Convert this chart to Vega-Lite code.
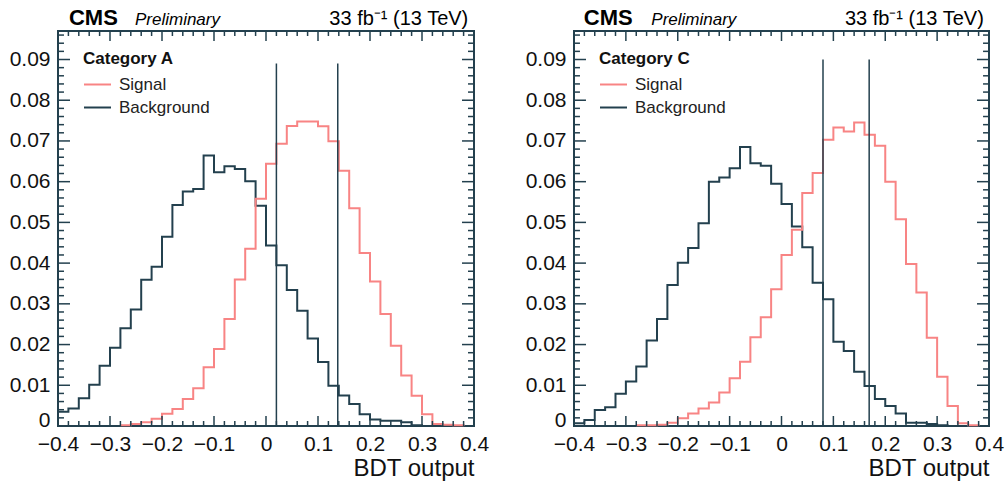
{
 "$schema": "https://vega.github.io/schema/vega-lite/v6.json",
 "padding": {"left": 8, "top": 5, "right": 0, "bottom": 0},
 "background": "white",
 "config": {
  "view": {"stroke": "#23404e", "strokeWidth": 2},
  "font": "Liberation Sans",
  "axis": {"domain": false, "grid": false, "ticks": false, "labelFont": "Liberation Sans", "labelFontSize": 21, "labelColor": "#111111", "labelOverlap": false, "labelFlush": false, "labelBound": false, "titleFont": "Liberation Sans", "titleFontWeight": "normal", "titleColor": "#111111"},
  "legend": {"orient": "none", "legendX": 25, "legendY": 20, "padding": 0, "titleFont": "Liberation Sans", "titleFontSize": 17, "titleFontWeight": "bold", "titleColor": "#111111", "titlePadding": 2, "labelFont": "Liberation Sans", "labelFontSize": 17, "labelColor": "#222222", "symbolType": "stroke", "symbolSize": 729, "symbolStrokeWidth": 2, "labelOffset": 7, "rowPadding": 0}
 },
 "datasets": {
  "hist": [
   {"p":"A","s":"Background","x":-0.4,"y":0.0035},{"p":"A","s":"Background","x":-0.38,"y":0.0043},{"p":"A","s":"Background","x":-0.36,"y":0.0068},{"p":"A","s":"Background","x":-0.34,"y":0.0101},{"p":"A","s":"Background","x":-0.32,"y":0.0148},{"p":"A","s":"Background","x":-0.3,"y":0.0192},{"p":"A","s":"Background","x":-0.28,"y":0.024},{"p":"A","s":"Background","x":-0.26,"y":0.0286},{"p":"A","s":"Background","x":-0.24,"y":0.0359},{"p":"A","s":"Background","x":-0.22,"y":0.0391},{"p":"A","s":"Background","x":-0.2,"y":0.0465},{"p":"A","s":"Background","x":-0.18,"y":0.0543},{"p":"A","s":"Background","x":-0.16,"y":0.0576},{"p":"A","s":"Background","x":-0.14,"y":0.0582},{"p":"A","s":"Background","x":-0.12,"y":0.0664},{"p":"A","s":"Background","x":-0.1,"y":0.0623},{"p":"A","s":"Background","x":-0.08,"y":0.0638},{"p":"A","s":"Background","x":-0.06,"y":0.0631},{"p":"A","s":"Background","x":-0.04,"y":0.0601},{"p":"A","s":"Background","x":-0.02,"y":0.0541},{"p":"A","s":"Background","x":0,"y":0.0443},{"p":"A","s":"Background","x":0.02,"y":0.0395},{"p":"A","s":"Background","x":0.04,"y":0.0334},{"p":"A","s":"Background","x":0.06,"y":0.0283},{"p":"A","s":"Background","x":0.08,"y":0.0215},{"p":"A","s":"Background","x":0.1,"y":0.0157},{"p":"A","s":"Background","x":0.12,"y":0.0099},{"p":"A","s":"Background","x":0.14,"y":0.0075},{"p":"A","s":"Background","x":0.16,"y":0.0054},{"p":"A","s":"Background","x":0.18,"y":0.0029},{"p":"A","s":"Background","x":0.2,"y":0.0016},{"p":"A","s":"Background","x":0.22,"y":0.0013},{"p":"A","s":"Background","x":0.24,"y":0.0013},{"p":"A","s":"Background","x":0.26,"y":0.0009},{"p":"A","s":"Background","x":0.28,"y":0.0002},{"p":"A","s":"Background","x":0.3,"y":0},
   {"p":"A","s":"Signal","x":-0.28,"y":0.0002},{"p":"A","s":"Signal","x":-0.26,"y":0.0005},{"p":"A","s":"Signal","x":-0.24,"y":0.0009},{"p":"A","s":"Signal","x":-0.22,"y":0.0018},{"p":"A","s":"Signal","x":-0.2,"y":0.003},{"p":"A","s":"Signal","x":-0.18,"y":0.0042},{"p":"A","s":"Signal","x":-0.16,"y":0.0066},{"p":"A","s":"Signal","x":-0.14,"y":0.0093},{"p":"A","s":"Signal","x":-0.12,"y":0.0144},{"p":"A","s":"Signal","x":-0.1,"y":0.0189},{"p":"A","s":"Signal","x":-0.08,"y":0.0263},{"p":"A","s":"Signal","x":-0.06,"y":0.036},{"p":"A","s":"Signal","x":-0.04,"y":0.0435},{"p":"A","s":"Signal","x":-0.02,"y":0.0558},{"p":"A","s":"Signal","x":0,"y":0.0644},{"p":"A","s":"Signal","x":0.02,"y":0.0693},{"p":"A","s":"Signal","x":0.04,"y":0.0737},{"p":"A","s":"Signal","x":0.06,"y":0.0748},{"p":"A","s":"Signal","x":0.08,"y":0.0748},{"p":"A","s":"Signal","x":0.1,"y":0.0736},{"p":"A","s":"Signal","x":0.12,"y":0.0699},{"p":"A","s":"Signal","x":0.14,"y":0.0627},{"p":"A","s":"Signal","x":0.16,"y":0.0535},{"p":"A","s":"Signal","x":0.18,"y":0.0425},{"p":"A","s":"Signal","x":0.2,"y":0.0355},{"p":"A","s":"Signal","x":0.22,"y":0.0275},{"p":"A","s":"Signal","x":0.24,"y":0.0197},{"p":"A","s":"Signal","x":0.26,"y":0.0124},{"p":"A","s":"Signal","x":0.28,"y":0.0074},{"p":"A","s":"Signal","x":0.3,"y":0.0029},{"p":"A","s":"Signal","x":0.32,"y":0.0005},{"p":"A","s":"Signal","x":0.34,"y":0.0003},{"p":"A","s":"Signal","x":0.36,"y":0.0002},{"p":"A","s":"Signal","x":0.38,"y":0},
   {"p":"C","s":"Background","x":-0.4,"y":0.0007},{"p":"C","s":"Background","x":-0.38,"y":0.0015},{"p":"C","s":"Background","x":-0.36,"y":0.0039},{"p":"C","s":"Background","x":-0.34,"y":0.0046},{"p":"C","s":"Background","x":-0.32,"y":0.0079},{"p":"C","s":"Background","x":-0.3,"y":0.0109},{"p":"C","s":"Background","x":-0.28,"y":0.0146},{"p":"C","s":"Background","x":-0.26,"y":0.021},{"p":"C","s":"Background","x":-0.24,"y":0.0263},{"p":"C","s":"Background","x":-0.22,"y":0.0346},{"p":"C","s":"Background","x":-0.2,"y":0.0401},{"p":"C","s":"Background","x":-0.18,"y":0.0437},{"p":"C","s":"Background","x":-0.16,"y":0.0498},{"p":"C","s":"Background","x":-0.14,"y":0.06},{"p":"C","s":"Background","x":-0.12,"y":0.061},{"p":"C","s":"Background","x":-0.1,"y":0.0633},{"p":"C","s":"Background","x":-0.08,"y":0.0685},{"p":"C","s":"Background","x":-0.06,"y":0.0645},{"p":"C","s":"Background","x":-0.04,"y":0.0639},{"p":"C","s":"Background","x":-0.02,"y":0.0595},{"p":"C","s":"Background","x":0,"y":0.0545},{"p":"C","s":"Background","x":0.02,"y":0.049},{"p":"C","s":"Background","x":0.04,"y":0.0439},{"p":"C","s":"Background","x":0.06,"y":0.0352},{"p":"C","s":"Background","x":0.08,"y":0.0311},{"p":"C","s":"Background","x":0.1,"y":0.0207},{"p":"C","s":"Background","x":0.12,"y":0.0184},{"p":"C","s":"Background","x":0.14,"y":0.0133},{"p":"C","s":"Background","x":0.16,"y":0.0098},{"p":"C","s":"Background","x":0.18,"y":0.0066},{"p":"C","s":"Background","x":0.2,"y":0.0049},{"p":"C","s":"Background","x":0.22,"y":0.0031},{"p":"C","s":"Background","x":0.24,"y":0.0008},{"p":"C","s":"Background","x":0.26,"y":0.0008},{"p":"C","s":"Background","x":0.28,"y":0.0005},{"p":"C","s":"Background","x":0.3,"y":0.0002},{"p":"C","s":"Background","x":0.32,"y":0},
   {"p":"C","s":"Signal","x":-0.28,"y":0.0002},{"p":"C","s":"Signal","x":-0.26,"y":0.0002},{"p":"C","s":"Signal","x":-0.24,"y":0.0003},{"p":"C","s":"Signal","x":-0.22,"y":0.0008},{"p":"C","s":"Signal","x":-0.2,"y":0.0019},{"p":"C","s":"Signal","x":-0.18,"y":0.0031},{"p":"C","s":"Signal","x":-0.16,"y":0.0043},{"p":"C","s":"Signal","x":-0.14,"y":0.0058},{"p":"C","s":"Signal","x":-0.12,"y":0.0082},{"p":"C","s":"Signal","x":-0.1,"y":0.0117},{"p":"C","s":"Signal","x":-0.08,"y":0.0158},{"p":"C","s":"Signal","x":-0.06,"y":0.0218},{"p":"C","s":"Signal","x":-0.04,"y":0.0267},{"p":"C","s":"Signal","x":-0.02,"y":0.0336},{"p":"C","s":"Signal","x":0,"y":0.042},{"p":"C","s":"Signal","x":0.02,"y":0.0482},{"p":"C","s":"Signal","x":0.04,"y":0.0572},{"p":"C","s":"Signal","x":0.06,"y":0.0621},{"p":"C","s":"Signal","x":0.08,"y":0.0703},{"p":"C","s":"Signal","x":0.1,"y":0.0733},{"p":"C","s":"Signal","x":0.12,"y":0.0723},{"p":"C","s":"Signal","x":0.14,"y":0.0745},{"p":"C","s":"Signal","x":0.16,"y":0.0715},{"p":"C","s":"Signal","x":0.18,"y":0.0688},{"p":"C","s":"Signal","x":0.2,"y":0.06},{"p":"C","s":"Signal","x":0.22,"y":0.0508},{"p":"C","s":"Signal","x":0.24,"y":0.0398},{"p":"C","s":"Signal","x":0.26,"y":0.0328},{"p":"C","s":"Signal","x":0.28,"y":0.0217},{"p":"C","s":"Signal","x":0.3,"y":0.0121},{"p":"C","s":"Signal","x":0.32,"y":0.0049},{"p":"C","s":"Signal","x":0.34,"y":0.0007},{"p":"C","s":"Signal","x":0.36,"y":0.0002},{"p":"C","s":"Signal","x":0.38,"y":0}
  ],
  "cuts": [
   {"p":"A","x":0.02,"y":0,"y2":0.089},{"p":"A","x":0.138,"y":0,"y2":0.089},
   {"p":"C","x":0.08,"y":0,"y2":0.09},{"p":"C","x":0.169,"y":0,"y2":0.09}
  ],
  "notes": [
   {"p":"A","k":"cms","x":-0.379,"y":0.0985,"t":"CMS"},{"p":"A","k":"pre","x":-0.252,"y":0.0985,"t":"Preliminary"},{"p":"A","k":"lumi","x":0.389,"y":0.0985,"t":"33 fb⁻¹ (13 TeV)"},
   {"p":"C","k":"cms","x":-0.381,"y":0.0985,"t":"CMS"},{"p":"C","k":"pre","x":-0.251,"y":0.0985,"t":"Preliminary"},{"p":"C","k":"lumi","x":0.39,"y":0.0985,"t":"33 fb⁻¹ (13 TeV)"}
  ],
  "tickvals": [
   {"ax":"x","k":"major","v":-0.4},{"ax":"x","k":"major","v":-0.3},{"ax":"x","k":"major","v":-0.2},{"ax":"x","k":"major","v":-0.1},{"ax":"x","k":"major","v":0},{"ax":"x","k":"major","v":0.1},{"ax":"x","k":"major","v":0.2},{"ax":"x","k":"major","v":0.3},{"ax":"x","k":"major","v":0.4},
   {"ax":"x","k":"minor","v":-0.38},{"ax":"x","k":"minor","v":-0.36},{"ax":"x","k":"minor","v":-0.34},{"ax":"x","k":"minor","v":-0.32},{"ax":"x","k":"minor","v":-0.28},{"ax":"x","k":"minor","v":-0.26},{"ax":"x","k":"minor","v":-0.24},{"ax":"x","k":"minor","v":-0.22},{"ax":"x","k":"minor","v":-0.18},{"ax":"x","k":"minor","v":-0.16},{"ax":"x","k":"minor","v":-0.14},{"ax":"x","k":"minor","v":-0.12},{"ax":"x","k":"minor","v":-0.08},{"ax":"x","k":"minor","v":-0.06},{"ax":"x","k":"minor","v":-0.04},{"ax":"x","k":"minor","v":-0.02},{"ax":"x","k":"minor","v":0.02},{"ax":"x","k":"minor","v":0.04},{"ax":"x","k":"minor","v":0.06},{"ax":"x","k":"minor","v":0.08},{"ax":"x","k":"minor","v":0.12},{"ax":"x","k":"minor","v":0.14},{"ax":"x","k":"minor","v":0.16},{"ax":"x","k":"minor","v":0.18},{"ax":"x","k":"minor","v":0.22},{"ax":"x","k":"minor","v":0.24},{"ax":"x","k":"minor","v":0.26},{"ax":"x","k":"minor","v":0.28},{"ax":"x","k":"minor","v":0.32},{"ax":"x","k":"minor","v":0.34},{"ax":"x","k":"minor","v":0.36},{"ax":"x","k":"minor","v":0.38},
   {"ax":"y","k":"major","v":0.01},{"ax":"y","k":"major","v":0.02},{"ax":"y","k":"major","v":0.03},{"ax":"y","k":"major","v":0.04},{"ax":"y","k":"major","v":0.05},{"ax":"y","k":"major","v":0.06},{"ax":"y","k":"major","v":0.07},{"ax":"y","k":"major","v":0.08},{"ax":"y","k":"major","v":0.09},
   {"ax":"y","k":"minor","v":0.002},{"ax":"y","k":"minor","v":0.004},{"ax":"y","k":"minor","v":0.006},{"ax":"y","k":"minor","v":0.008},{"ax":"y","k":"minor","v":0.012},{"ax":"y","k":"minor","v":0.014},{"ax":"y","k":"minor","v":0.016},{"ax":"y","k":"minor","v":0.018},{"ax":"y","k":"minor","v":0.022},{"ax":"y","k":"minor","v":0.024},{"ax":"y","k":"minor","v":0.026},{"ax":"y","k":"minor","v":0.028},{"ax":"y","k":"minor","v":0.032},{"ax":"y","k":"minor","v":0.034},{"ax":"y","k":"minor","v":0.036},{"ax":"y","k":"minor","v":0.038},{"ax":"y","k":"minor","v":0.042},{"ax":"y","k":"minor","v":0.044},{"ax":"y","k":"minor","v":0.046},{"ax":"y","k":"minor","v":0.048},{"ax":"y","k":"minor","v":0.052},{"ax":"y","k":"minor","v":0.054},{"ax":"y","k":"minor","v":0.056},{"ax":"y","k":"minor","v":0.058},{"ax":"y","k":"minor","v":0.062},{"ax":"y","k":"minor","v":0.064},{"ax":"y","k":"minor","v":0.066},{"ax":"y","k":"minor","v":0.068},{"ax":"y","k":"minor","v":0.072},{"ax":"y","k":"minor","v":0.074},{"ax":"y","k":"minor","v":0.076},{"ax":"y","k":"minor","v":0.078},{"ax":"y","k":"minor","v":0.082},{"ax":"y","k":"minor","v":0.084},{"ax":"y","k":"minor","v":0.086},{"ax":"y","k":"minor","v":0.088},{"ax":"y","k":"minor","v":0.092},{"ax":"y","k":"minor","v":0.094},{"ax":"y","k":"minor","v":0.096}
  ]
 },
 "spacing": 100,
 "bounds": "flush",
 "resolve": {"scale": {"color": "independent"}, "legend": {"color": "independent"}},
 "hconcat": [
  {
   "width": 416, "height": 395,
   "resolve": {"axis": {"x": "independent", "y": "independent"}},
   "layer": [
    {
     "data": {"name": "hist"}, "transform": [{"filter": "datum.p == 'A'"}],
     "mark": {"type": "line", "interpolate": "step-after", "strokeWidth": 2},
     "encoding": {
      "x": {"field": "x", "type": "quantitative", "scale": {"domain": [-0.4, 0.4], "nice": false, "zero": false},
       "axis": {"orient": "bottom", "values": [-0.4,-0.3,-0.2,-0.1,0,0.1,0.2,0.3,0.4], "title": "BDT output", "titleAnchor": "end", "titleFontSize": 24, "titlePadding": 2, "labelPadding": 7,
        "labelExpr": "abs(datum.value) < 1e-9 ? '0' : format(datum.value, '.1f')"}},
      "y": {"field": "y", "type": "quantitative", "scale": {"domain": [0, 0.097], "nice": false, "zero": false},
       "axis": {"orient": "left", "values": [0,0.01,0.02,0.03,0.04,0.05,0.06,0.07,0.08,0.09], "title": null, "labelPadding": 8,
        "labelBaseline": {"condition": {"test": "datum.value < 1e-9", "value": "alphabetic"}, "value": "middle"},
        "labelExpr": "datum.value < 1e-9 ? '0' : format(datum.value, '.2f')"}},
      "color": {"field": "s", "type": "nominal", "scale": {"domain": ["Signal", "Background"], "range": ["#f88484", "#23404e"]}, "legend": {"title": "Category A"}}
     }
    },
    {
     "data": {"name": "cuts"}, "transform": [{"filter": "datum.p == 'A'"}],
     "mark": {"type": "rule", "color": "#23404e", "strokeWidth": 1.5},
     "encoding": {
      "x": {"field": "x", "type": "quantitative", "scale": {"domain": [-0.4, 0.4], "nice": false, "zero": false}, "axis": null},
      "y": {"field": "y", "type": "quantitative", "scale": {"domain": [0, 0.097], "nice": false, "zero": false}, "axis": null},
      "y2": {"field": "y2"}
     }
    },
    {
     "data": {"name": "tickvals"}, "transform": [{"filter": "datum.ax == 'x' && datum.k == 'major'"}],
     "mark": {"type": "rule", "color": "#23404e", "strokeWidth": 1.5},
     "encoding": {"x": {"field": "v", "type": "quantitative", "scale": {"domain": [-0.4, 0.4], "nice": false, "zero": false}, "axis": null}, "y": {"datum": 0, "type": "quantitative", "scale": {"domain": [0, 0.097], "nice": false, "zero": false}, "axis": null}, "y2": {"datum": 0.00246}}
    },
    {
     "data": {"name": "tickvals"}, "transform": [{"filter": "datum.ax == 'x' && datum.k == 'minor'"}],
     "mark": {"type": "rule", "color": "#23404e", "strokeWidth": 1.5},
     "encoding": {"x": {"field": "v", "type": "quantitative", "scale": {"domain": [-0.4, 0.4], "nice": false, "zero": false}, "axis": null}, "y": {"datum": 0, "type": "quantitative", "scale": {"domain": [0, 0.097], "nice": false, "zero": false}, "axis": null}, "y2": {"datum": 0.00123}}
    },
    {
     "data": {"name": "tickvals"}, "transform": [{"filter": "datum.ax == 'x' && datum.k == 'major'"}],
     "mark": {"type": "rule", "color": "#23404e", "strokeWidth": 1.5},
     "encoding": {"x": {"field": "v", "type": "quantitative", "scale": {"domain": [-0.4, 0.4], "nice": false, "zero": false}, "axis": null}, "y": {"datum": 0.097, "type": "quantitative", "scale": {"domain": [0, 0.097], "nice": false, "zero": false}, "axis": null}, "y2": {"datum": 0.09454}}
    },
    {
     "data": {"name": "tickvals"}, "transform": [{"filter": "datum.ax == 'x' && datum.k == 'minor'"}],
     "mark": {"type": "rule", "color": "#23404e", "strokeWidth": 1.5},
     "encoding": {"x": {"field": "v", "type": "quantitative", "scale": {"domain": [-0.4, 0.4], "nice": false, "zero": false}, "axis": null}, "y": {"datum": 0.097, "type": "quantitative", "scale": {"domain": [0, 0.097], "nice": false, "zero": false}, "axis": null}, "y2": {"datum": 0.09577}}
    },
    {
     "data": {"name": "tickvals"}, "transform": [{"filter": "datum.ax == 'y' && datum.k == 'major'"}],
     "mark": {"type": "rule", "color": "#23404e", "strokeWidth": 1.5},
     "encoding": {"y": {"field": "v", "type": "quantitative", "scale": {"domain": [0, 0.097], "nice": false, "zero": false}, "axis": null}, "x": {"datum": -0.4, "type": "quantitative", "scale": {"domain": [-0.4, 0.4], "nice": false, "zero": false}, "axis": null}, "x2": {"datum": -0.3769}}
    },
    {
     "data": {"name": "tickvals"}, "transform": [{"filter": "datum.ax == 'y' && datum.k == 'minor'"}],
     "mark": {"type": "rule", "color": "#23404e", "strokeWidth": 1.5},
     "encoding": {"y": {"field": "v", "type": "quantitative", "scale": {"domain": [0, 0.097], "nice": false, "zero": false}, "axis": null}, "x": {"datum": -0.4, "type": "quantitative", "scale": {"domain": [-0.4, 0.4], "nice": false, "zero": false}, "axis": null}, "x2": {"datum": -0.3885}}
    },
    {
     "data": {"name": "tickvals"}, "transform": [{"filter": "datum.ax == 'y' && datum.k == 'major'"}],
     "mark": {"type": "rule", "color": "#23404e", "strokeWidth": 1.5},
     "encoding": {"y": {"field": "v", "type": "quantitative", "scale": {"domain": [0, 0.097], "nice": false, "zero": false}, "axis": null}, "x": {"datum": 0.4, "type": "quantitative", "scale": {"domain": [-0.4, 0.4], "nice": false, "zero": false}, "axis": null}, "x2": {"datum": 0.3769}}
    },
    {
     "data": {"name": "tickvals"}, "transform": [{"filter": "datum.ax == 'y' && datum.k == 'minor'"}],
     "mark": {"type": "rule", "color": "#23404e", "strokeWidth": 1.5},
     "encoding": {"y": {"field": "v", "type": "quantitative", "scale": {"domain": [0, 0.097], "nice": false, "zero": false}, "axis": null}, "x": {"datum": 0.4, "type": "quantitative", "scale": {"domain": [-0.4, 0.4], "nice": false, "zero": false}, "axis": null}, "x2": {"datum": 0.3885}}
    },
    {
     "data": {"name": "notes"}, "transform": [{"filter": "datum.p == 'A' && datum.k == 'cms'"}],
     "mark": {"type": "text", "align": "left", "baseline": "alphabetic", "fontSize": 22, "fontWeight": "bold", "font": "Liberation Sans", "color": "#000000"},
     "encoding": {"x": {"field": "x", "type": "quantitative", "scale": {"domain": [-0.4, 0.4], "nice": false, "zero": false}, "axis": null}, "y": {"field": "y", "type": "quantitative", "scale": {"domain": [0, 0.097], "nice": false, "zero": false}, "axis": null}, "text": {"field": "t"}}
    },
    {
     "data": {"name": "notes"}, "transform": [{"filter": "datum.p == 'A' && datum.k == 'pre'"}],
     "mark": {"type": "text", "align": "left", "baseline": "alphabetic", "fontSize": 17, "fontStyle": "italic", "font": "Liberation Sans", "color": "#000000"},
     "encoding": {"x": {"field": "x", "type": "quantitative", "scale": {"domain": [-0.4, 0.4], "nice": false, "zero": false}, "axis": null}, "y": {"field": "y", "type": "quantitative", "scale": {"domain": [0, 0.097], "nice": false, "zero": false}, "axis": null}, "text": {"field": "t"}}
    },
    {
     "data": {"name": "notes"}, "transform": [{"filter": "datum.p == 'A' && datum.k == 'lumi'"}],
     "mark": {"type": "text", "align": "right", "baseline": "alphabetic", "fontSize": 20, "font": "Liberation Sans", "color": "#000000"},
     "encoding": {"x": {"field": "x", "type": "quantitative", "scale": {"domain": [-0.4, 0.4], "nice": false, "zero": false}, "axis": null}, "y": {"field": "y", "type": "quantitative", "scale": {"domain": [0, 0.097], "nice": false, "zero": false}, "axis": null}, "text": {"field": "t"}}
    }
   ]
  },
  {
   "width": 415, "height": 395,
   "resolve": {"axis": {"x": "independent", "y": "independent"}},
   "layer": [
    {
     "data": {"name": "hist"}, "transform": [{"filter": "datum.p == 'C'"}],
     "mark": {"type": "line", "interpolate": "step-after", "strokeWidth": 2},
     "encoding": {
      "x": {"field": "x", "type": "quantitative", "scale": {"domain": [-0.4, 0.4], "nice": false, "zero": false},
       "axis": {"orient": "bottom", "values": [-0.4,-0.3,-0.2,-0.1,0,0.1,0.2,0.3,0.4], "title": "BDT output", "titleAnchor": "end", "titleFontSize": 24, "titlePadding": 2, "labelPadding": 7,
        "labelExpr": "abs(datum.value) < 1e-9 ? '0' : format(datum.value, '.1f')"}},
      "y": {"field": "y", "type": "quantitative", "scale": {"domain": [0, 0.097], "nice": false, "zero": false},
       "axis": {"orient": "left", "values": [0,0.01,0.02,0.03,0.04,0.05,0.06,0.07,0.08,0.09], "title": null, "labelPadding": 8,
        "labelBaseline": {"condition": {"test": "datum.value < 1e-9", "value": "alphabetic"}, "value": "middle"},
        "labelExpr": "datum.value < 1e-9 ? '0' : format(datum.value, '.2f')"}},
      "color": {"field": "s", "type": "nominal", "scale": {"domain": ["Signal", "Background"], "range": ["#f88484", "#23404e"]}, "legend": {"title": "Category C"}}
     }
    },
    {
     "data": {"name": "cuts"}, "transform": [{"filter": "datum.p == 'C'"}],
     "mark": {"type": "rule", "color": "#23404e", "strokeWidth": 1.5},
     "encoding": {
      "x": {"field": "x", "type": "quantitative", "scale": {"domain": [-0.4, 0.4], "nice": false, "zero": false}, "axis": null},
      "y": {"field": "y", "type": "quantitative", "scale": {"domain": [0, 0.097], "nice": false, "zero": false}, "axis": null},
      "y2": {"field": "y2"}
     }
    },
    {
     "data": {"name": "tickvals"}, "transform": [{"filter": "datum.ax == 'x' && datum.k == 'major'"}],
     "mark": {"type": "rule", "color": "#23404e", "strokeWidth": 1.5},
     "encoding": {"x": {"field": "v", "type": "quantitative", "scale": {"domain": [-0.4, 0.4], "nice": false, "zero": false}, "axis": null}, "y": {"datum": 0, "type": "quantitative", "scale": {"domain": [0, 0.097], "nice": false, "zero": false}, "axis": null}, "y2": {"datum": 0.00246}}
    },
    {
     "data": {"name": "tickvals"}, "transform": [{"filter": "datum.ax == 'x' && datum.k == 'minor'"}],
     "mark": {"type": "rule", "color": "#23404e", "strokeWidth": 1.5},
     "encoding": {"x": {"field": "v", "type": "quantitative", "scale": {"domain": [-0.4, 0.4], "nice": false, "zero": false}, "axis": null}, "y": {"datum": 0, "type": "quantitative", "scale": {"domain": [0, 0.097], "nice": false, "zero": false}, "axis": null}, "y2": {"datum": 0.00123}}
    },
    {
     "data": {"name": "tickvals"}, "transform": [{"filter": "datum.ax == 'x' && datum.k == 'major'"}],
     "mark": {"type": "rule", "color": "#23404e", "strokeWidth": 1.5},
     "encoding": {"x": {"field": "v", "type": "quantitative", "scale": {"domain": [-0.4, 0.4], "nice": false, "zero": false}, "axis": null}, "y": {"datum": 0.097, "type": "quantitative", "scale": {"domain": [0, 0.097], "nice": false, "zero": false}, "axis": null}, "y2": {"datum": 0.09454}}
    },
    {
     "data": {"name": "tickvals"}, "transform": [{"filter": "datum.ax == 'x' && datum.k == 'minor'"}],
     "mark": {"type": "rule", "color": "#23404e", "strokeWidth": 1.5},
     "encoding": {"x": {"field": "v", "type": "quantitative", "scale": {"domain": [-0.4, 0.4], "nice": false, "zero": false}, "axis": null}, "y": {"datum": 0.097, "type": "quantitative", "scale": {"domain": [0, 0.097], "nice": false, "zero": false}, "axis": null}, "y2": {"datum": 0.09577}}
    },
    {
     "data": {"name": "tickvals"}, "transform": [{"filter": "datum.ax == 'y' && datum.k == 'major'"}],
     "mark": {"type": "rule", "color": "#23404e", "strokeWidth": 1.5},
     "encoding": {"y": {"field": "v", "type": "quantitative", "scale": {"domain": [0, 0.097], "nice": false, "zero": false}, "axis": null}, "x": {"datum": -0.4, "type": "quantitative", "scale": {"domain": [-0.4, 0.4], "nice": false, "zero": false}, "axis": null}, "x2": {"datum": -0.3769}}
    },
    {
     "data": {"name": "tickvals"}, "transform": [{"filter": "datum.ax == 'y' && datum.k == 'minor'"}],
     "mark": {"type": "rule", "color": "#23404e", "strokeWidth": 1.5},
     "encoding": {"y": {"field": "v", "type": "quantitative", "scale": {"domain": [0, 0.097], "nice": false, "zero": false}, "axis": null}, "x": {"datum": -0.4, "type": "quantitative", "scale": {"domain": [-0.4, 0.4], "nice": false, "zero": false}, "axis": null}, "x2": {"datum": -0.3885}}
    },
    {
     "data": {"name": "tickvals"}, "transform": [{"filter": "datum.ax == 'y' && datum.k == 'major'"}],
     "mark": {"type": "rule", "color": "#23404e", "strokeWidth": 1.5},
     "encoding": {"y": {"field": "v", "type": "quantitative", "scale": {"domain": [0, 0.097], "nice": false, "zero": false}, "axis": null}, "x": {"datum": 0.4, "type": "quantitative", "scale": {"domain": [-0.4, 0.4], "nice": false, "zero": false}, "axis": null}, "x2": {"datum": 0.3769}}
    },
    {
     "data": {"name": "tickvals"}, "transform": [{"filter": "datum.ax == 'y' && datum.k == 'minor'"}],
     "mark": {"type": "rule", "color": "#23404e", "strokeWidth": 1.5},
     "encoding": {"y": {"field": "v", "type": "quantitative", "scale": {"domain": [0, 0.097], "nice": false, "zero": false}, "axis": null}, "x": {"datum": 0.4, "type": "quantitative", "scale": {"domain": [-0.4, 0.4], "nice": false, "zero": false}, "axis": null}, "x2": {"datum": 0.3885}}
    },
    {
     "data": {"name": "notes"}, "transform": [{"filter": "datum.p == 'C' && datum.k == 'cms'"}],
     "mark": {"type": "text", "align": "left", "baseline": "alphabetic", "fontSize": 22, "fontWeight": "bold", "font": "Liberation Sans", "color": "#000000"},
     "encoding": {"x": {"field": "x", "type": "quantitative", "scale": {"domain": [-0.4, 0.4], "nice": false, "zero": false}, "axis": null}, "y": {"field": "y", "type": "quantitative", "scale": {"domain": [0, 0.097], "nice": false, "zero": false}, "axis": null}, "text": {"field": "t"}}
    },
    {
     "data": {"name": "notes"}, "transform": [{"filter": "datum.p == 'C' && datum.k == 'pre'"}],
     "mark": {"type": "text", "align": "left", "baseline": "alphabetic", "fontSize": 17, "fontStyle": "italic", "font": "Liberation Sans", "color": "#000000"},
     "encoding": {"x": {"field": "x", "type": "quantitative", "scale": {"domain": [-0.4, 0.4], "nice": false, "zero": false}, "axis": null}, "y": {"field": "y", "type": "quantitative", "scale": {"domain": [0, 0.097], "nice": false, "zero": false}, "axis": null}, "text": {"field": "t"}}
    },
    {
     "data": {"name": "notes"}, "transform": [{"filter": "datum.p == 'C' && datum.k == 'lumi'"}],
     "mark": {"type": "text", "align": "right", "baseline": "alphabetic", "fontSize": 20, "font": "Liberation Sans", "color": "#000000"},
     "encoding": {"x": {"field": "x", "type": "quantitative", "scale": {"domain": [-0.4, 0.4], "nice": false, "zero": false}, "axis": null}, "y": {"field": "y", "type": "quantitative", "scale": {"domain": [0, 0.097], "nice": false, "zero": false}, "axis": null}, "text": {"field": "t"}}
    }
   ]
  }
 ]
}
